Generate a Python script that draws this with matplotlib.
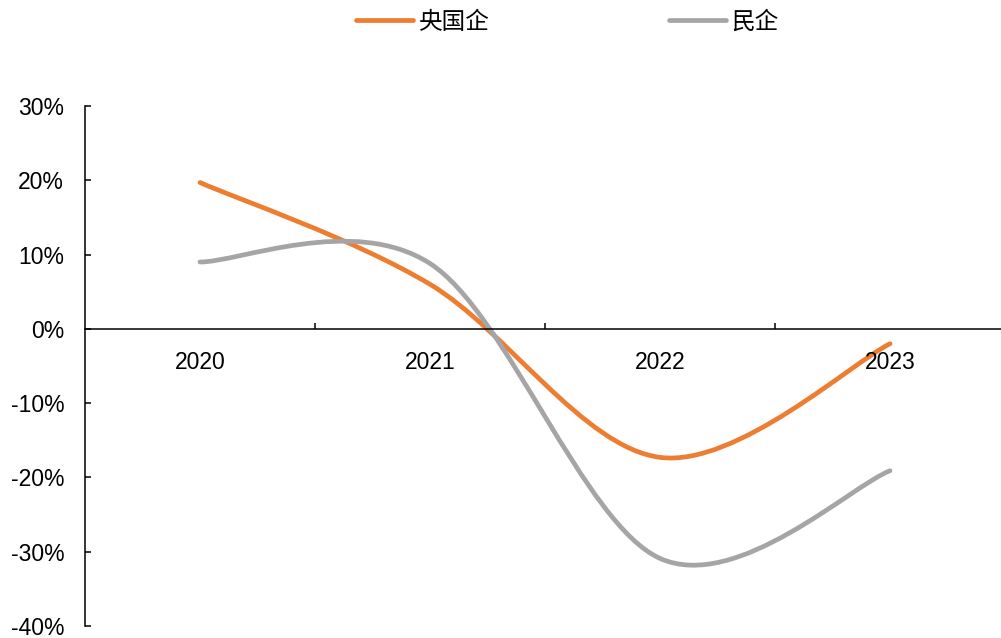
import matplotlib.pyplot as plt
import numpy as np
from matplotlib.path import Path
from matplotlib.patches import PathPatch
from matplotlib.lines import Line2D

plt.rcParams['font.family'] = ['Liberation Sans', 'Noto Sans CJK SC', 'DejaVu Sans']

years = ['2020', '2021', '2022', '2023']
soe = [19.7, 6.0, -17.3, -2.0]       # 央国企, %
private = [9.0, 8.8, -30.9, -19.1]  # 民企, %

names = ['央国企', '民企']
colors = ['#ED7D31', '#A5A5A5']


def smooth_path(xs, ys):
    # cubic bezier through every point, tangent from neighbours (spreadsheet-style smoothing)
    pts = np.column_stack([xs, ys]).astype(float)
    n = len(pts)
    verts = [pts[0]]
    codes = [Path.MOVETO]
    for i in range(n - 1):
        p0 = pts[i - 1] if i > 0 else pts[i]
        p1, p2 = pts[i], pts[i + 1]
        p3 = pts[i + 2] if i + 2 < n else pts[i + 1]
        c1 = p1 + (p2 - p0) / 6
        c2 = p2 - (p3 - p1) / 6
        verts += [c1, c2, p2]
        codes += [Path.CURVE4] * 3
    return Path(verts, codes)


fig = plt.figure(figsize=(10.01, 6.38), dpi=100)
ax = fig.add_axes([85 / 1001, 12 / 638, 920 / 1001, 520 / 638])

x = np.arange(len(years))
for vals, c in zip([soe, private], colors):
    patch = PathPatch(smooth_path(x, vals), facecolor='none', edgecolor=c,
                      lw=3.4, capstyle='round')
    ax.add_patch(patch)

ax.set_xlim(-0.5, 3.5)
ax.set_ylim(-40, 30)
ax.set_yticks(np.arange(-40, 31, 10))
ax.set_yticklabels([f'{v}%' for v in range(-40, 31, 10)])

ax.spines['top'].set_visible(False)
ax.spines['right'].set_visible(False)
ax.spines['bottom'].set_position(('data', 0))
for s in ['left', 'bottom']:
    ax.spines[s].set_linewidth(1.1)

ax.set_xticks(x)
ax.set_xticklabels(years)
ax.set_xticks([0.5, 1.5, 2.5], minor=True)
ax.tick_params(axis='x', which='major', length=0, pad=16, labelsize=16.5)
ax.tick_params(axis='x', which='minor', direction='in', length=4, width=1.1)
ax.tick_params(axis='y', direction='in', length=4, width=1.1, pad=15, labelsize=16.5)

handles = [Line2D([], [], color=c, lw=3.4, solid_capstyle='round') for c in colors]
fig.legend(handles, names, loc='center', bbox_to_anchor=(0.567, 0.9655), ncol=2,
           frameon=False, handlelength=2.4, handletextpad=0.25,
           columnspacing=7.6,
           prop={'family': ['Noto Sans CJK SC', 'DejaVu Sans'], 'size': 17})

fig.savefig('out.png', dpi=100)
